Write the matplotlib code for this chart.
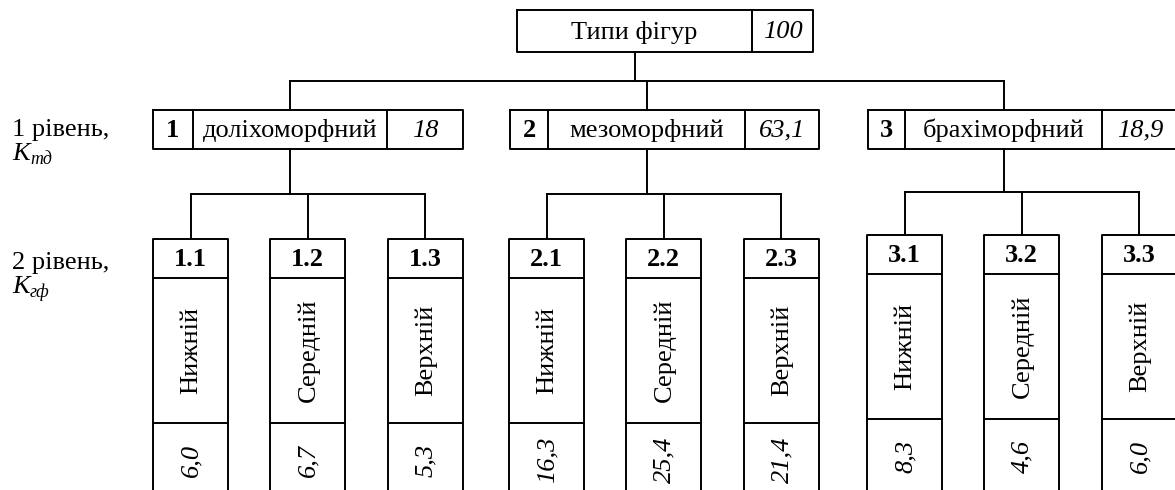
import matplotlib
matplotlib.use("Agg")
import matplotlib.pyplot as plt

# ---- data ----
root_label = "Типи фігур"
root_value = 100
l1_numbers = ["1", "2", "3"]
l1_names = ["доліхоморфний", "мезоморфний", "брахіморфний"]
l1_values = [18, 63.1, 18.9]
l2_codes = [["1.1", "1.2", "1.3"], ["2.1", "2.2", "2.3"], ["3.1", "3.2", "3.3"]]
l2_names = ["Нижній", "Середній", "Верхній"]
l2_values = [[6.0, 6.7, 5.3], [16.3, 25.4, 21.4], [8.3, 4.6, 6.0]]
level_labels = ["1 рівень,", "2 рівень,"]
level_symbols = [("K", "тд"), ("K", "гф")]

def fmt1(v):
    return f"{v:g}".replace(".", ",")

def fmt2(v):
    return f"{v:.1f}".replace(".", ",")

# ---- layout (pixel coordinates) ----
FONT = "Liberation Serif"
FS = 19
LW = 1.4
W, H = 1175, 490

fig = plt.figure(figsize=(W / 100, H / 100), dpi=100)
ax = fig.add_axes([0, 0, 1, 1])
ax.set_xlim(0, W)
ax.set_ylim(H, 0)
ax.axis("off")

def line(xs, ys):
    ax.plot(xs, ys, color="black", lw=LW, solid_capstyle="projecting", clip_on=True)

def rect(x0, y0, x1, y1):
    line([x0, x1, x1, x0, x0], [y0, y0, y1, y1, y0])

def txt(x, y, s, **kw):
    kw.setdefault("fontsize", FS)
    ax.text(x, y, s, family=FONT, ha="center", va="center", **kw)

# root box
rx = [517, 752, 813]
ry = [10, 52]
rect(rx[0], ry[0], rx[2], ry[1])
line([rx[1], rx[1]], ry)
txt((rx[0] + rx[1]) / 2, 32, root_label)
txt((rx[1] + rx[2]) / 2, 32, str(root_value), style="italic")

# level 1 boxes
l1_edges = [[153, 193, 387, 463], [510, 548, 745, 819], [868, 905, 1102, 1179]]
l1_y = [110, 149]
root_stem = (rx[0] + rx[1]) / 2
bus_y = 81
l1_centers = [(e[1] + e[2]) / 2 for e in l1_edges]
line([root_stem, root_stem], [ry[1], bus_y])
line([l1_centers[0], l1_centers[-1]], [bus_y, bus_y])
for i, e in enumerate(l1_edges):
    c = l1_centers[i]
    line([c, c], [bus_y, l1_y[0]])
    rect(e[0], l1_y[0], e[3], l1_y[1])
    line([e[1], e[1]], l1_y)
    line([e[2], e[2]], l1_y)
    ym = (l1_y[0] + l1_y[1]) / 2 + 1
    txt((e[0] + e[1]) / 2, ym, l1_numbers[i], weight="bold")
    txt((e[1] + e[2]) / 2, ym, l1_names[i])
    txt((e[2] + e[3]) / 2, ym, fmt1(l1_values[i]), style="italic")

# level 2 boxes
g_left = [153, 509, 867]
g_top = [239, 239, 235]
g_bus = [194, 194, 192]
step, bw = 117.3, 75
hdr_h, mid_h, bottom = 39, 145, 500
for g in range(3):
    c_par = l1_centers[g]
    line([c_par, c_par], [l1_y[1], g_bus[g]])
    lefts = [g_left[g] + k * step for k in range(3)]
    cents = [l + bw / 2 for l in lefts]
    line([cents[0], cents[-1]], [g_bus[g], g_bus[g]])
    t = g_top[g]
    for k in range(3):
        l, c = lefts[k], cents[k]
        line([c, c], [g_bus[g], t])
        line([l, l + bw, l + bw, l, l], [bottom, bottom, t, t, bottom])
        line([l, l + bw], [t + hdr_h, t + hdr_h])
        line([l, l + bw], [t + hdr_h + mid_h, t + hdr_h + mid_h])
        txt(c, t + hdr_h / 2 + 1, l2_codes[g][k], weight="bold")
        txt(c + 1, t + hdr_h + mid_h / 2, l2_names[k], rotation=90)
        txt(c + 1, t + hdr_h + mid_h + 37, fmt2(l2_values[g][k]), rotation=90, style="italic")

# level labels
for lab, sym, y in zip(level_labels, level_symbols, [130, 263]):
    ax.text(12, y, lab, family=FONT, fontsize=FS, ha="left", va="center")
    ax.text(12, y + 24, sym[0], family=FONT, fontsize=FS, style="italic", ha="left", va="center")
    ax.text(30, y + 29, sym[1], family=FONT, fontsize=FS * 0.68, style="italic", ha="left", va="center")

fig.savefig("out.png", dpi=100)
